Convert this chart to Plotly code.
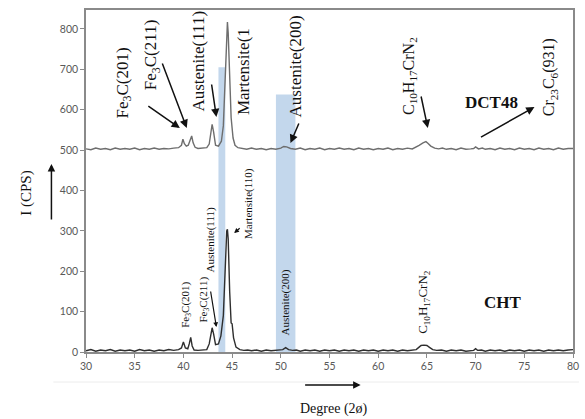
import plotly.graph_objects as go

# ---------------- data ----------------
deg_dct48 = [30.0, 30.5, 31.0, 31.5, 32.0, 32.5, 33.0, 33.5, 34.0, 34.5, 35.0, 35.5, 36.0, 36.5,
             37.0, 37.5, 38.0, 38.5, 39.0, 39.5, 39.8, 39.95, 40.1, 40.3, 40.5, 40.7, 40.85, 41.0,
             41.2, 41.5, 42.0, 42.4, 42.65, 42.85, 42.95, 43.1, 43.3, 43.6, 43.9, 44.1, 44.3,
             44.45, 44.52, 44.6, 44.75, 44.9, 45.1, 45.3, 45.6, 46.0, 46.5, 47.0, 47.5, 48.0,
             48.5, 49.0, 49.5, 50.0, 50.3, 50.6, 51.0, 51.5, 52.0, 52.5, 53.0, 53.5, 54.0, 54.5,
             55.0, 55.5, 56.0, 56.5, 57.0, 57.5, 58.0, 58.5, 59.0, 59.5, 60.0, 60.5, 61.0, 61.5,
             62.0, 62.5, 63.0, 63.5, 63.8, 64.2, 64.6, 64.9, 65.1, 65.4, 65.8, 66.2, 66.6, 67.0,
             67.5, 68.0, 68.5, 69.0, 69.5, 69.8, 70.0, 70.3, 70.7, 71.0, 71.5, 72.0, 72.5, 73.0,
             73.5, 74.0, 74.5, 75.0, 75.5, 76.0, 76.5, 77.0, 77.5, 78.0, 78.5, 79.0, 79.5, 80.0]
cps_dct48 = [503, 501, 505, 502, 504, 501, 505, 502, 504, 502, 505, 501, 504, 502,
             505, 502, 504, 503, 505, 506, 512, 527, 516, 510, 512, 524, 535, 518,
             507, 504, 505, 506, 515, 555, 564, 545, 512, 510, 522, 560, 680,
             810, 817, 790, 680, 580, 530, 512, 506, 504, 502, 505, 502, 504,
             501, 504, 502, 505, 509, 508, 504, 502, 505, 501, 504, 502, 505, 501,
             504, 502, 505, 502, 504, 501, 505, 502, 504, 501, 504, 502, 505, 501,
             504, 502, 505, 503, 506, 512, 518, 521, 517, 510, 505, 503, 505, 502,
             504, 501, 505, 502, 503, 504, 508, 503, 505, 502, 504, 501, 505, 502,
             504, 501, 505, 502, 504, 501, 505, 502, 504, 501, 505, 502, 504, 504]

deg_cht = [30.0, 30.5, 31.0, 31.5, 32.0, 32.5, 33.0, 33.5, 34.0, 34.5, 35.0, 35.5, 36.0, 36.5,
           37.0, 37.5, 38.0, 38.5, 39.0, 39.5, 39.8, 40.0, 40.2, 40.45, 40.6, 40.75, 40.9, 41.1,
           41.5, 42.0, 42.4, 42.65, 42.85, 42.95, 43.1, 43.3, 43.6, 43.85, 44.1, 44.3, 44.45,
           44.52, 44.6, 44.75, 44.9, 45.0, 45.15, 45.4, 45.8, 46.2, 46.6, 47.0, 47.5, 48.0,
           48.5, 49.0, 49.5, 50.2, 50.5, 50.8, 51.2, 51.6, 52.0, 52.5, 53.0, 53.5, 54.0, 54.5,
           55.0, 55.5, 56.0, 56.5, 57.0, 57.5, 58.0, 58.5, 59.0, 59.5, 60.0, 60.5, 61.0, 61.5,
           62.0, 62.5, 63.0, 63.5, 63.9, 64.2, 64.4, 64.7, 65.0, 65.3, 65.6, 66.0, 66.5, 67.0,
           67.5, 68.0, 68.5, 69.0, 69.5, 69.8, 70.0, 70.2, 70.6, 71.0, 71.5, 72.0, 72.5, 73.0,
           73.5, 74.0, 74.5, 75.0, 75.5, 76.0, 76.5, 77.0, 77.5, 78.0, 78.5, 79.0, 79.5, 80.0]
cps_cht = [3, 6, 2, 5, 3, 6, 2, 5, 3, 5, 2, 6, 3, 5,
           2, 5, 3, 6, 4, 6, 10, 25, 10, 8, 20, 36, 15, 5,
           4, 5, 6, 20, 55, 60, 45, 18, 20, 40, 90, 230, 300,
           304, 280, 150, 72, 70, 35, 12, 6, 4, 5, 3, 5, 2,
           5, 3, 5, 6, 11, 6, 4, 5, 2, 5, 3, 5, 2, 5,
           3, 5, 2, 5, 3, 5, 2, 5, 3, 5, 2, 5, 3, 5,
           2, 5, 3, 5, 6, 12, 16, 17, 16, 11, 6, 4, 5, 2,
           5, 3, 5, 2, 4, 4, 8, 4, 5, 2, 5, 3, 5, 2,
           5, 3, 5, 2, 5, 3, 5, 2, 5, 3, 5, 3, 5, 6]

band_start = [43.6, 49.5]
band_end = [44.3, 51.5]
band_top = [705, 638]

x_ticks = [30, 35, 40, 45, 50, 55, 60, 65, 70, 75, 80]
y_ticks = [0, 100, 200, 300, 400, 500, 600, 700, 800]

# ---------------- geometry helpers (pixel -> paper) ----------------
W, H = 585, 419
L, R, T, B = 86, 579, 10, 352


def px(x):
    return (x - L) / (R - L)


def py(y):
    return (B - y) / (B - T)


SERIF = "Times New Roman, Liberation Serif, serif"

fig = go.Figure()

for x0, x1, top in zip(band_start, band_end, band_top):
    fig.add_shape(type="rect", xref="x", yref="y", x0=x0, x1=x1, y0=0, y1=top,
                  fillcolor="#c3d7ec", line=dict(width=0), layer="below")

fig.add_trace(go.Scatter(x=deg_dct48, y=cps_dct48, mode="lines", name="DCT48",
                         line=dict(color="#6e6e6e", width=1.4)))
fig.add_trace(go.Scatter(x=deg_cht, y=cps_cht, mode="lines", name="CHT",
                         line=dict(color="#2e2e2e", width=1.4)))

annotations = []


def label(text, x, y, size, angle=-90, bold=False):
    if bold:
        text = "<b>" + text + "</b>"
    annotations.append(dict(text=text, x=px(x), y=py(y), xref="paper", yref="paper",
                            showarrow=False, textangle=angle,
                            font=dict(family=SERIF, size=size, color="#111"),
                            xanchor="center", yanchor="middle"))


def arrow(tail, head, width=1.5, size=1.0):
    annotations.append(dict(text="", x=px(head[0]), y=py(head[1]), xref="paper", yref="paper",
                            ax=tail[0] - head[0], ay=tail[1] - head[1],
                            showarrow=True, arrowhead=2, arrowsize=size, arrowwidth=width,
                            arrowcolor="#111"))


# upper (DCT48) labels
label("Fe<sub>3</sub>C(201)", 124, 83, 17)
arrow((148, 105), (181, 128), size=1.1)
label("Fe<sub>3</sub>C(211)", 153, 55, 17)
arrow((163, 62), (188, 128), size=1.1)
label("Austenite(111)", 199, 61, 17)
arrow((213, 83), (218, 117), size=1.1)
label("Martensite(1", 245, 72, 17)
label("Austenite(200)", 298, 66, 17)
arrow((302, 122), (293, 143), size=1.1)
label("C<sub>10</sub>H<sub>17</sub>CrN<sub>2</sub>", 413, 76, 16)
arrow((425, 95), (432, 128), size=1.1)
label("DCT48", 497, 103, 17, angle=0, bold=True)
arrow((485, 138), (540, 107), size=1.1)
label("Cr<sub>23</sub>C<sub>6</sub>(931)", 555, 77, 16)

# lower (CHT) labels
label("Fe<sub>3</sub>C(201)", 187, 305, 11)
label("Fe<sub>3</sub>C(211)", 205, 300, 11)
label("Austenite(111)", 213, 239, 11)
arrow((212, 290), (218, 327), width=1.2, size=0.8)
label("Martensite(110)", 250, 204, 11)
arrow((243, 227), (236, 233), width=1.2, size=0.8)
label("Austenite(200)", 287, 303, 11)
label("C<sub>10</sub>H<sub>17</sub>CrN<sub>2</sub>", 427, 302, 13)
label("CHT", 508, 302, 17, angle=0, bold=True)

# axis titles with arrows
label("I (CPS)", 25, 193, 15)
arrow((51, 221), (51, 164))
label("Degree (2ø)", 337, 409, 14, angle=0)
arrow((307, 385), (364, 385))

fig.add_shape(type="line", xref="paper", yref="paper", x0=px(53), x1=px(585), y0=py(382), y1=py(382),
              line=dict(color="#ececec", width=1))

fig.update_layout(
    width=W, height=H,
    margin=dict(l=L, r=W - R, t=T, b=H - B),
    paper_bgcolor="white", plot_bgcolor="white",
    showlegend=False,
    annotations=annotations,
    xaxis=dict(range=[30, 80], tickvals=x_ticks, showgrid=False, zeroline=False,
               showline=True, linecolor="#8a8a8a", linewidth=1.5, mirror=True,
               ticks="outside", ticklen=4, tickcolor="#8a8a8a",
               tickfont=dict(family="Lato", size=10.5, color="#595959")),
    yaxis=dict(range=[0, 847], tickvals=y_ticks, showgrid=False, zeroline=False,
               showline=True, linecolor="#8a8a8a", linewidth=1.5, mirror=True,
               ticks="outside", ticklen=4, tickcolor="#8a8a8a",
               tickfont=dict(family="Lato", size=10.5, color="#595959")),
)

fig.write_html("out.html")
